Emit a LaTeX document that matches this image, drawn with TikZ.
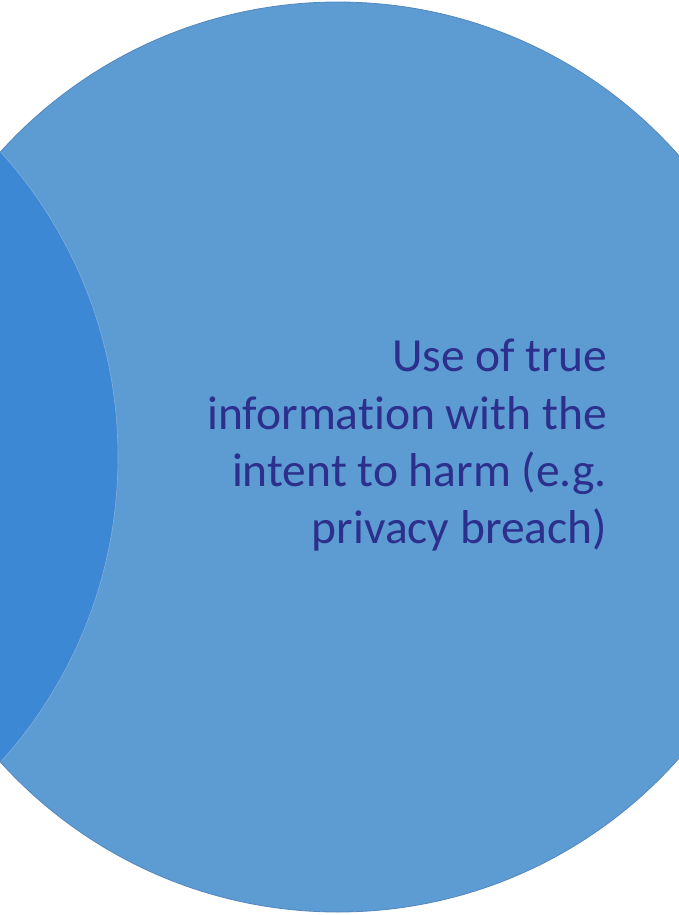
\documentclass[tikz,border=0pt]{standalone}
\usepackage{fontspec}
\setmainfont{Carlito}[Ligatures={NoCommon,NoRare}]
\definecolor{circlelight}{RGB}{93,155,211}
\definecolor{circledark}{RGB}{61,136,212}
\definecolor{circleedge}{RGB}{84,135,190}
\definecolor{labelblue}{RGB}{44,48,140}
\begin{document}
\begin{tikzpicture}[x=1pt,y=-1pt,
  labeltext/.style={anchor=base east, inner sep=0pt, text=labelblue,
    font=\fontsize{47.5pt}{57pt}\selectfont}]
\useasboundingbox (0,0) rectangle (679,915);
\begin{scope}
  \clip (0,0) rectangle (679,915);
  \fill[circlelight] (338,457) circle (455pt);
  \begin{scope}
    \clip (338,457) circle (455pt);
    \fill[circledark] (-337,457) circle (455pt);
    \draw[circlelight!80!white, line width=0.6pt] (-337,457) circle (455pt);
  \end{scope}
  \draw[circleedge, line width=0.8pt] (338,457) circle (455pt);
\end{scope}
\node[labeltext] (l1) at (607,371.7) {Use of true};
\node[labeltext] (l2) at (607,429.2) {informat\kern0pt ion with the};
\node[labeltext] (l3) at (607,486.7) {intent to harm (e.g.};
\node[labeltext] (l4) at (607,543.5) {privacy breach)};
\end{tikzpicture}
\end{document}
